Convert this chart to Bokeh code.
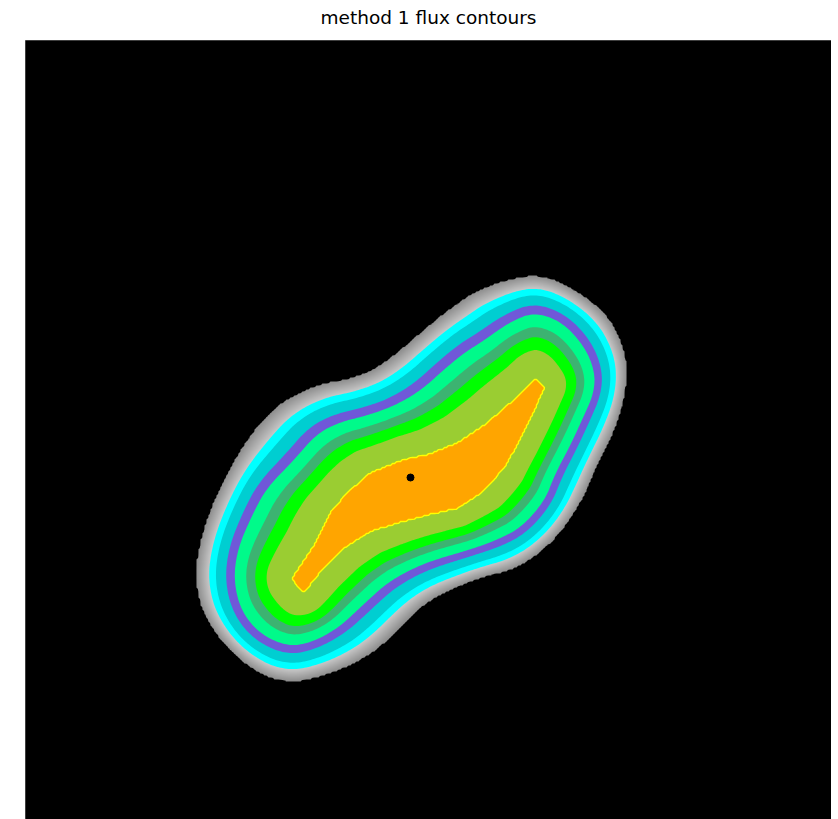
import numpy as np
from bokeh.plotting import figure
from bokeh.models import Range1d, LinearColorMapper, Title
from bokeh.embed import file_html
from bokeh.resources import INLINE

TITLE = "method 1 flux contours"

# displayed image extent (image pixel units, y upwards)
IMG_W, IMG_H = 806, 806

# contour boundaries (image pixel units, y upwards)
# innermost (orange / yellow-line) contour
core_x = [267, 288, 305, 322, 345, 378, 402, 432, 462, 485, 502, 510, 518, 508,
          492, 478, 458, 432, 405, 378, 345, 318, 295, 278]
core_y = [268, 299, 333, 353, 373, 386, 391, 403, 423, 443, 459, 468, 459, 436,
          403, 379, 356, 339, 333, 326, 316, 299, 276, 254]
# middle (slate-blue band) contour
mid_x = [204, 208, 222, 237, 265, 288, 312, 338, 365, 392, 418, 438, 455, 482,
         508, 538, 562, 573, 572, 560, 547, 533, 522, 498, 472, 442, 408, 385,
         365, 350, 335, 315, 288, 262, 232, 212]
mid_y = [266, 299, 333, 361, 389, 416, 428, 434, 443, 459, 483, 499, 509, 528,
         539, 529, 503, 476, 453, 426, 398, 372, 343, 316, 303, 293, 283, 273,
         261, 248, 234, 216, 201, 196, 209, 233]
# outermost (grey / black) edge
edge_x = [170, 170, 182, 203, 225, 248, 272, 298, 322, 345, 365, 385, 412, 435,
          450, 482, 515, 548, 582, 598, 603, 599, 589, 573, 559, 538, 515, 488,
          458, 432, 405, 385, 355, 325, 295, 268, 238, 205, 180]
edge_y = [256, 289, 333, 378, 413, 439, 454, 464, 468, 476, 489, 506, 529, 546,
          556, 568, 573, 559, 533, 503, 476, 444, 414, 383, 349, 316, 293, 276,
          269, 259, 246, 229, 198, 180, 169, 163, 169, 193, 226]

# band edges (0 = inner contour, 1 = middle contour, 2 = outer edge), read along a cut
band_edges = [0.0, 0.42, 0.605, 0.75, 0.935, 1.13, 1.42, 1.61]
band_colors = ["#FFA500", "#9ACD32", "#00FF00", "#3CB371", "#00FA8A",
               "#7058D8", "#00CED1", "#00FFFF"]
outer_edge = 2.0
grey_light, grey_dark = 200, 138

# flux centroid marker
centroid_x = [385]
centroid_y = [369]


def chaikin(xs, ys, n):
    pts = np.column_stack([np.asarray(xs, float), np.asarray(ys, float)])
    for _ in range(n):
        nxt = np.roll(pts, -1, axis=0)
        q = 0.75 * pts + 0.25 * nxt
        r = 0.25 * pts + 0.75 * nxt
        new = np.empty((2 * len(pts), 2))
        new[0::2] = q
        new[1::2] = r
        pts = new
    return pts[:, 0], pts[:, 1]


def dist_inside(px, py, xs, ys):
    d = np.full(px.shape, np.inf)
    inside = np.zeros(px.shape, bool)
    n = len(xs)
    for i in range(n):
        ax, ay = xs[i], ys[i]
        bx, by = xs[(i + 1) % n], ys[(i + 1) % n]
        dx, dy = bx - ax, by - ay
        L2 = dx * dx + dy * dy
        if L2 == 0:
            continue
        t = np.clip(((px - ax) * dx + (py - ay) * dy) / L2, 0.0, 1.0)
        d = np.minimum(d, np.hypot(px - ax - t * dx, py - ay - t * dy))
        if ay != by:
            cond = (ay > py) != (by > py)
            xint = ax + (py - ay) * dx / dy
            inside ^= cond & (px < xint)
    return d, inside


step = 2.0
gx = (np.arange(int(IMG_W / step)) + 0.5) * step
gy = (np.arange(int(IMG_H / step)) + 0.5) * step
X, Y = np.meshgrid(gx, gy)

cx, cy = np.asarray(core_x, float), np.asarray(core_y, float)
mx, my = chaikin(mid_x, mid_y, 2)
ex, ey = chaikin(edge_x, edge_y, 2)

d_o, in_o = dist_inside(X, Y, cx, cy)
d_m, in_m = dist_inside(X, Y, mx, my)
d_e, in_e = dist_inside(X, Y, ex, ey)
eps = 1e-9
S = np.where(in_o, -d_o,
             np.where(in_m, d_o / (d_o + d_m + eps),
                      np.where(in_e, 1.0 + d_m / (d_m + d_e + eps), 2.0 + d_e)))

p = figure(width=831, height=819, x_range=Range1d(0, 806), y_range=Range1d(27, 806),
           output_backend="svg", toolbar_location=None,
           x_axis_location=None, y_axis_location=None,
           min_border_left=25, min_border_right=0, min_border_top=40, min_border_bottom=0,
           title=TITLE)
p.title.align = "center"
p.title.text_font = "DejaVu Sans"
p.title.text_font_size = "18.5px"
p.title.text_font_style = "normal"
p.title.text_color = "black"
p.title.standoff = 6
# small blank spacer between the title and the image
p.add_layout(Title(text=" ", text_font_size="2px", standoff=6), "above")
p.grid.visible = False
p.background_fill_color = "black"
p.border_fill_color = "white"
p.outline_line_color = "#555555"

# grey shading of the outer flux
ramp = np.linspace(grey_light, grey_dark, 256).astype(int)
grey_palette = ["#%02x%02x%02x" % (v, v, v) for v in ramp]
mapper = LinearColorMapper(palette=grey_palette, low=band_edges[-1], high=outer_edge,
                           low_color=grey_palette[0], high_color="black")
p.image(image=[S], x=0, y=0, dw=IMG_W, dh=IMG_H, color_mapper=mapper)

# smooth black edge outside the outermost level
top = float(S.max()) + 1.0
p.contour(gx, gy, S, levels=[outer_edge, top], fill_color=["black"])

# nested filled contours (outermost first); colour k covers S < band_edges[k]
floor = float(S.min()) - 1.0
for k in range(len(band_colors) - 1, -1, -1):
    p.contour(gx, gy, S, levels=[floor, band_edges[k]], fill_color=[band_colors[k]])
p.contour(gx, gy, S, levels=[band_edges[0]], line_color="yellow", line_width=1.4)

p.scatter(x=centroid_x, y=centroid_y, size=7, color="black")

open("out.html", "w").write(file_html(p, INLINE))
